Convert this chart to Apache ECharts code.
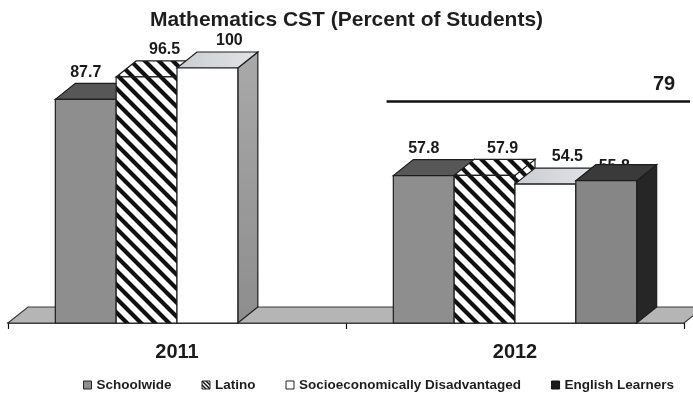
<!DOCTYPE html>
<html>
<head>
<meta charset="utf-8">
<script src="https://cdn.jsdelivr.net/npm/echarts@6/dist/echarts.min.js"></script>
<style>
  html, body { margin: 0; padding: 0; background: #ffffff; }
  #chart { width: 693px; height: 402px; }
</style>
</head>
<body>
<div id="chart"></div>
<script>
// ---- data ----
const categories = ['2011', '2012'];
const seriesNames = ['Schoolwide', 'Latino', 'Socioeconomically Disadvantaged', 'English Learners'];
const schoolwide = [87.7, 57.8];
const latino = [96.5, 57.9];
const socioDisadvantaged = [100, 54.5];
const englishLearners = [null, 55.8];
const targetCategory = '2012';
const targetValue = 79;
const titleText = 'Mathematics CST (Percent of Students)';

// ---- styling helpers ----
const FONT = "'Liberation Sans', Arial, Helvetica, sans-serif";
const DX = 20, DY = -16;          // 3D depth offset
const BAR_FRAC = 0.18;            // bar width as a fraction of the category band

function hatchCanvas(size, lw) {
  const c = document.createElement('canvas');
  c.width = size; c.height = size;
  const g = c.getContext('2d');
  g.fillStyle = '#ffffff';
  g.fillRect(0, 0, size, size);
  g.strokeStyle = '#111111';
  g.lineWidth = lw;
  g.lineCap = 'square';
  for (let k = -1; k <= 1; k++) {
    g.beginPath();
    g.moveTo(k * size - 2, -2);
    g.lineTo(k * size + size + 2, size + 2);
    g.stroke();
  }
  return c;
}
const hatch = { image: hatchCanvas(14, 4.2), repeat: 'repeat' };
const hatchSmall = { image: hatchCanvas(4, 1.4), repeat: 'repeat' };

const styles = [
  { front: '#8e8e8e', top: '#575757', side: '#6a6a6a', labelDx: 0, labelBehind: false },
  { front: hatch, top: hatch, side: hatch, labelDx: 18, labelBehind: false },
  { front: '#ffffff',
    top: { type: 'linear', x: 0, y: 0, x2: 1, y2: 1, colorStops: [{ offset: 0, color: '#c9ccd2' }, { offset: 1, color: '#e2e4e8' }] },
    side: { type: 'linear', x: 0, y: 0, x2: 0, y2: 1, colorStops: [{ offset: 0, color: '#a9a9a9' }, { offset: 1, color: '#8d8d8d' }] },
    labelDx: 22, labelBehind: false },
  { front: '#868686', top: '#3a3a3a', side: '#262626', labelDx: 8, labelBehind: true }
];

function barRenderer(sIdx) {
  const st = styles[sIdx];
  return function (params, api) {
    const cat = api.value(0), v = api.value(1);
    const base = api.coord([cat, 0]);
    const top = api.coord([cat, v]);
    const band = api.size([1, 0])[0];
    const bw = band * BAR_FRAC;
    const x0 = base[0] - 2 * bw + sIdx * bw;
    const x1 = x0 + bw;
    const yb = base[1], yt = top[1];
    const edge = { stroke: '#1e1e1e', lineWidth: 1.2 };
    const side = { type: 'polygon', shape: { points: [[x1, yt], [x1 + DX, yt + DY], [x1 + DX, yb + DY], [x1, yb]] },
      style: Object.assign({ fill: st.side }, edge) };
    const topFace = { type: 'polygon', shape: { points: [[x0, yt], [x1, yt], [x1 + DX, yt + DY], [x0 + DX, yt + DY]] },
      style: Object.assign({ fill: st.top }, edge) };
    const front = { type: 'rect', shape: { x: x0, y: yt, width: bw, height: yb - yt },
      style: Object.assign({ fill: st.front }, edge) };
    const labelY = st.labelBehind ? yt + DY + 10 : yt + DY - 3;
    const label = { type: 'text',
      style: { text: String(v), x: x0 + bw / 2 + st.labelDx, y: labelY,
        textAlign: 'center', textVerticalAlign: 'bottom',
        font: 'bold 16px ' + FONT, fill: '#1a1a1a' } };
    const children = st.labelBehind ? [label, side, topFace, front] : [side, topFace, front, label];
    return { type: 'group', children: children };
  };
}

function floorRenderer(params, api) {
  const cs = params.coordSys;
  const yb = cs.y + cs.height;
  const xl = cs.x, xr = cs.x + cs.width;
  return {
    type: 'polygon',
    shape: { points: [[xl, yb], [xr, yb], [xr + DX, yb + DY], [xl + DX, yb + DY]] },
    style: { fill: '#b5b5b5', stroke: '#3a3a3a', lineWidth: 1.2 }
  };
}

function targetRenderer(params, api) {
  const cs = params.coordSys;
  const cat = api.value(0), v = api.value(1);
  const p = api.coord([cat, v]);
  const band = api.size([1, 0])[0];
  const y = p[1] + DY - 4;
  const xs = p[0] - 0.38 * band;
  const xe = cs.x + cs.width + 6;
  return {
    type: 'group',
    children: [
      { type: 'line', shape: { x1: xs, y1: y, x2: xe, y2: y }, style: { stroke: '#111111', lineWidth: 2.6 } },
      { type: 'text', style: { text: String(v), x: xe - 26, y: y - 7, textAlign: 'center', textVerticalAlign: 'bottom',
        font: 'bold 20px ' + FONT, fill: '#1a1a1a' } }
    ]
  };
}

const valueArrays = [schoolwide, latino, socioDisadvantaged, englishLearners];

const barSeries = valueArrays.map(function (arr, sIdx) {
  return {
    name: seriesNames[sIdx],
    type: 'custom',
    coordinateSystem: 'cartesian2d',
    renderItem: barRenderer(sIdx),
    encode: { x: 0, y: 1 },
    z: 3,
    data: categories.map(function (c, i) { return [i, arr[i]]; }).filter(function (d) { return d[1] != null; })
  };
});

const chart = echarts.init(document.getElementById('chart'), null, { renderer: 'canvas' });
chart.setOption({
  backgroundColor: '#ffffff',
  animation: false,
  title: {
    text: titleText,
    left: 'center',
    top: 5,
    textStyle: { fontFamily: FONT, fontWeight: 'bold', fontSize: 21, color: '#1e1e1e' }
  },
  legend: {
    left: 78,
    top: 373,
    itemWidth: 8,
    itemHeight: 8,
    itemGap: 30,
    icon: 'rect',
    textStyle: { fontFamily: FONT, fontWeight: 'bold', fontSize: 13.5, color: '#1e1e1e' },
    data: [
      { name: seriesNames[0], itemStyle: { color: '#8e8e8e', borderColor: '#222', borderWidth: 1 } },
      { name: seriesNames[1], itemStyle: { color: hatchSmall, borderColor: '#222', borderWidth: 1 } },
      { name: seriesNames[2], itemStyle: { color: '#ffffff', borderColor: '#222', borderWidth: 1 } },
      { name: seriesNames[3], itemStyle: { color: '#1a1a1a', borderColor: '#111', borderWidth: 1 } }
    ]
  },
  grid: { left: 8, right: 9, top: 68, bottom: 79, containLabel: false },
  xAxis: {
    type: 'category',
    data: categories,
    axisLine: { show: true, lineStyle: { color: '#111', width: 1.5 } },
    axisTick: { show: true, length: 6, lineStyle: { color: '#111', width: 1.2 } },
    axisLabel: { margin: 19, fontFamily: FONT, fontWeight: 'bold', fontSize: 20, color: '#1a1a1a' },
    splitLine: { show: false }
  },
  yAxis: {
    type: 'value',
    min: 0,
    max: 100,
    show: false
  },
  series: [
    { name: 'floor', type: 'custom', renderItem: floorRenderer, encode: { x: 0, y: 1 }, z: 1, silent: true, data: [[0, 0]] }
  ].concat(barSeries).concat([
    { name: 'target', type: 'custom', renderItem: targetRenderer, encode: { x: 0, y: 1 }, z: 2, silent: true,
      data: [[categories.indexOf(targetCategory), targetValue]] }
  ])
});
</script>
</body>
</html>
